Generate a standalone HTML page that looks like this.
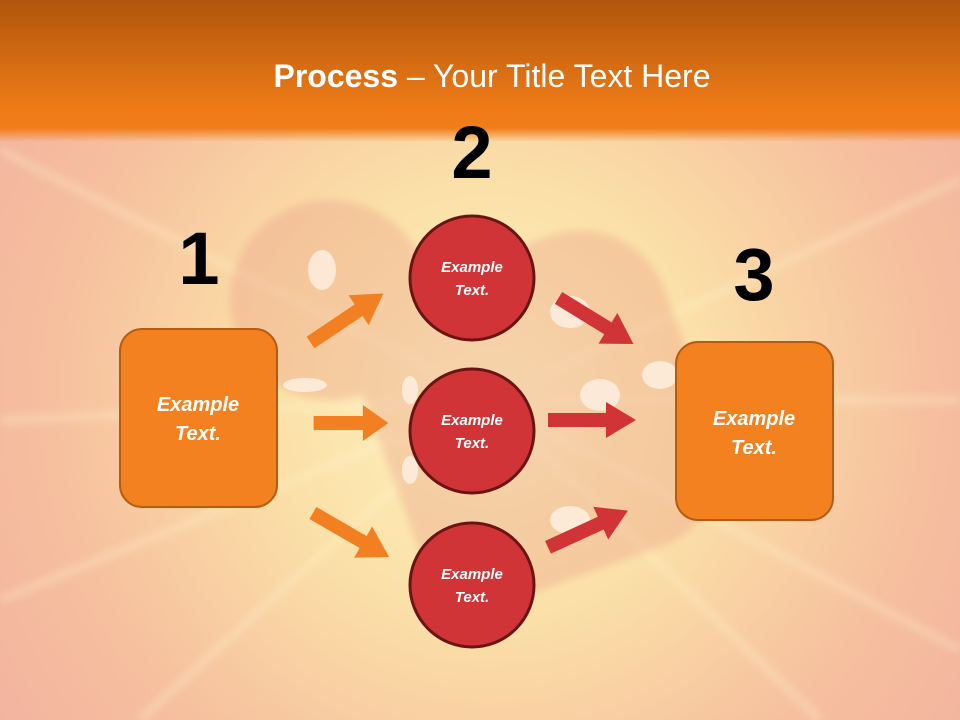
<!DOCTYPE html>
<html><head><meta charset="utf-8"><style>
html,body{margin:0;padding:0;width:960px;height:720px;overflow:hidden}
svg{display:block;font-family:"Liberation Sans",sans-serif}
</style></head><body>
<svg width="960" height="720" viewBox="0 0 960 720" xmlns="http://www.w3.org/2000/svg">
<defs>
<radialGradient id="bg" cx="490" cy="400" r="620" gradientUnits="userSpaceOnUse">
<stop offset="0" stop-color="#fdf3c0"/>
<stop offset="0.35" stop-color="#fbe0a8"/>
<stop offset="0.7" stop-color="#f6c09e"/>
<stop offset="1" stop-color="#f2b0a0"/>
</radialGradient>
<linearGradient id="hd" x1="0" y1="0" x2="0" y2="1">
<stop offset="0" stop-color="#b0560c"/>
<stop offset="0.85" stop-color="#ef7b17"/>
<stop offset="1" stop-color="#f07d1a"/>
</linearGradient>
<linearGradient id="fade" x1="0" y1="0" x2="0" y2="1">
<stop offset="0" stop-color="#f07d1a" stop-opacity="1"/>
<stop offset="1" stop-color="#f07d1a" stop-opacity="0"/>
</linearGradient>
<filter id="bl"><feGaussianBlur stdDeviation="4"/></filter>
<g id="arr"><polygon points="-44,-7 14,-7 14,-18 44,0 14,18 14,7 -44,7"/></g>
</defs>
<rect width="960" height="720" fill="url(#bg)"/>
<g stroke="#fff6d0" stroke-opacity="0.3" stroke-width="8" filter="url(#bl)">
<line x1="490" y1="400" x2="0" y2="150"/><line x1="490" y1="400" x2="960" y2="180"/>
<line x1="490" y1="400" x2="0" y2="600"/><line x1="490" y1="400" x2="960" y2="650"/>
<line x1="490" y1="400" x2="140" y2="720"/><line x1="490" y1="400" x2="820" y2="720"/>
<line x1="490" y1="400" x2="960" y2="400"/><line x1="490" y1="400" x2="0" y2="420"/>
</g>
<g fill="#e89080" opacity="0.3" filter="url(#bl)">
<circle cx="330" cy="300" r="100"/>
<rect x="380" y="250" width="320" height="330" rx="90" transform="rotate(-20 540 415)"/>
</g>
<g fill="#fff6ee" opacity="0.7">
<ellipse cx="322" cy="270" rx="14" ry="20"/><ellipse cx="570" cy="312" rx="20" ry="16"/>
<ellipse cx="305" cy="385" rx="22" ry="7"/><ellipse cx="600" cy="395" rx="20" ry="16"/>
<ellipse cx="660" cy="375" rx="18" ry="14"/><ellipse cx="570" cy="520" rx="20" ry="14"/>
<ellipse cx="410" cy="390" rx="8" ry="14"/><ellipse cx="410" cy="470" rx="8" ry="14"/>
</g>
<rect width="960" height="128" fill="url(#hd)"/>
<rect y="128" width="960" height="14" fill="url(#fade)"/>
<text x="492" y="87" text-anchor="middle" fill="#fff" font-size="32"><tspan font-weight="bold">Process</tspan> – Your Title Text Here</text>
<g font-weight="bold" font-size="74" text-anchor="middle" fill="#000">
<text x="199" y="284">1</text><text x="472" y="178">2</text><text x="754" y="300">3</text>
</g>
<rect x="120" y="329" width="157" height="178" rx="22" fill="#f38120" stroke="#b55b14" stroke-width="2"/>
<rect x="676" y="342" width="157" height="178" rx="22" fill="#f38120" stroke="#b55b14" stroke-width="2"/>
<g fill="#d13436" stroke="#6a1414" stroke-width="3">
<circle cx="472" cy="278" r="62"/><circle cx="472" cy="431" r="62"/><circle cx="472" cy="585" r="62"/>
</g>
<g fill="#f28022">
<use href="#arr" transform="translate(347,318) rotate(-34)"/>
<use href="#arr" transform="translate(351,423) scale(0.85,1)"/>
<use href="#arr" transform="translate(351,535) rotate(30)"/>
</g>
<g fill="#d13436">
<use href="#arr" transform="translate(596,321) rotate(31.6)"/>
<use href="#arr" transform="translate(592,420)"/>
<use href="#arr" transform="translate(588,529) rotate(-24.6)"/>
</g>
<g fill="#fff" font-weight="bold" font-style="italic" text-anchor="middle">
<g font-size="15"><text x="472" y="272">Example</text><text x="472" y="295">Text.</text>
<text x="472" y="425">Example</text><text x="472" y="448">Text.</text>
<text x="472" y="579">Example</text><text x="472" y="602">Text.</text></g>
<g font-size="20"><text x="198" y="411">Example</text><text x="198" y="440">Text.</text>
<text x="754" y="425">Example</text><text x="754" y="454">Text.</text></g>
</g>
</svg>
</body></html>
